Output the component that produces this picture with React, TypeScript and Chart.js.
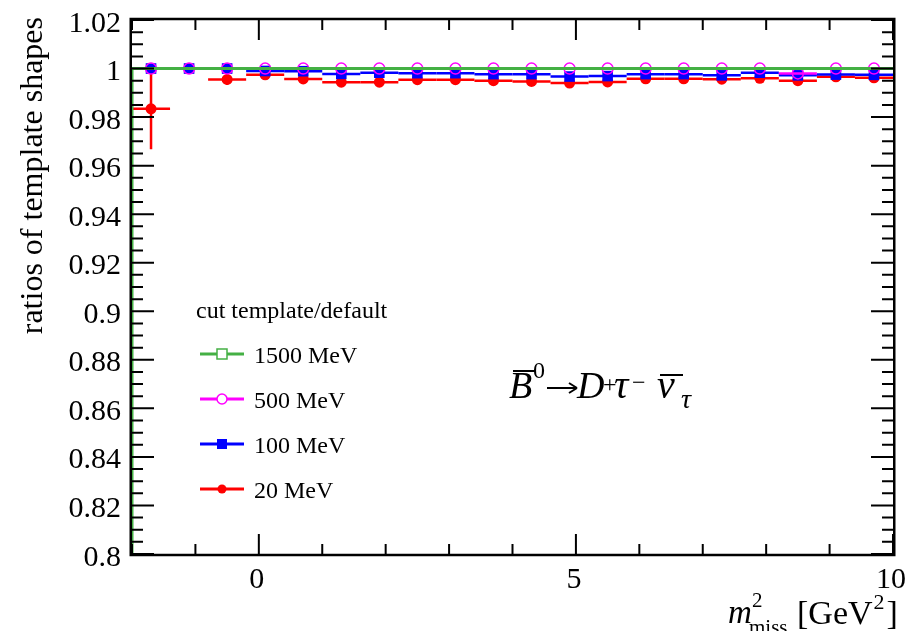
import React, { useEffect, useRef } from "react";
import { Chart, registerables } from "chart.js";

Chart.register(...registerables);

// ---------- data ----------
const binCenters = [-1.7, -1.1, -0.5, 0.1, 0.7, 1.3, 1.9, 2.5, 3.1, 3.7, 4.3, 4.9, 5.5, 6.1, 6.7, 7.3, 7.9, 8.5, 9.1, 9.7];
const binHalfWidth = 0.3;

const ratio1500 = [1, 1, 1, 1, 1, 1, 1, 1, 1, 1, 1, 1, 1, 1, 1, 1, 1, 1, 1, 1];
const ratio500 = [1, 1, 1, 1, 1, 1, 1, 1, 1, 1, 1, 1, 1, 1, 1, 1, 1, 0.998, 1, 1];
const ratio100 = [1, 1, 1, 0.999, 0.9989, 0.9978, 0.9983, 0.9981, 0.9981, 0.9977, 0.9977, 0.9967, 0.9969, 0.9977, 0.9977, 0.9972, 0.9983, 0.9972, 0.9975, 0.9974];
const ratio20 = [0.9834, 1, 0.9955, 0.9974, 0.9957, 0.9944, 0.9944, 0.9954, 0.9954, 0.995, 0.9947, 0.994, 0.9945, 0.9958, 0.9958, 0.9956, 0.996, 0.995, 0.9966, 0.9962];

const err500 = [0.0005, 0.0005, 0.0005, 0.0005, 0.0005, 0.0005, 0.0005, 0.0005, 0.0005, 0.0005, 0.0005, 0.0005, 0.0005, 0.0005, 0.0005, 0.0005, 0.0005, 0.0005, 0.0005, 0.0005];
const err100 = [0.001, 0.0008, 0.001, 0.0008, 0.0008, 0.0008, 0.0008, 0.0008, 0.0008, 0.0008, 0.0008, 0.0008, 0.0008, 0.0008, 0.0008, 0.0008, 0.0008, 0.0008, 0.0008, 0.0008];
const err20 = [0.0167, 0.001, 0.0023, 0.001, 0.001, 0.001, 0.001, 0.001, 0.001, 0.001, 0.001, 0.001, 0.001, 0.001, 0.001, 0.001, 0.001, 0.001, 0.001, 0.001];

const seriesLabels = ["1500 MeV", "500 MeV", "100 MeV", "20 MeV"];
const seriesColors = ["#44b044", "#ff00ff", "#0000ff", "#ff0000"];
const legendHeader = "cut template/default";

const yTickValues = [0.8, 0.82, 0.84, 0.86, 0.88, 0.9, 0.92, 0.94, 0.96, 0.98, 1, 1.02];
const yTickLabels = ["0.8", "0.82", "0.84", "0.86", "0.88", "0.9", "0.92", "0.94", "0.96", "0.98", "1", "1.02"];
const xTickValues = [0, 5, 10];
const xTickLabels = ["0", "5", "10"];
const xMinorStep = 1;
const yMinorStep = 0.005;

const xMin = -2;
const xMax = 10;
const yMin = 0.8;
const yMax = 1.02;

const yTitle = "ratios of template shapes";

const SERIF = '"Liberation Serif", "Times New Roman", serif';

// ---------- helpers ----------
function points(vals: number[]) {
  return binCenters.map((c, i) => ({ x: c, y: vals[i] }));
}

function histSteps(vals: number[]) {
  const out: { x: number; y: number }[] = [{ x: binCenters[0] - binHalfWidth, y: yMin }];
  binCenters.forEach((c, i) => {
    out.push({ x: c - binHalfWidth, y: vals[i] });
    out.push({ x: c + binHalfWidth, y: vals[i] });
  });
  return out;
}

const errorBarPlugin = {
  id: "errorBars",
  beforeDatasetDraw(chart: any, args: any) {
    const ds = chart.data.datasets[args.index];
    if (!ds.errY) return;
    const ctx = chart.ctx as CanvasRenderingContext2D;
    const xs = chart.scales.x;
    const ys = chart.scales.y;
    const a = chart.chartArea;
    ctx.save();
    ctx.beginPath();
    ctx.rect(a.left, a.top, a.right - a.left, a.bottom - a.top);
    ctx.clip();
    ctx.strokeStyle = ds.borderColor;
    ctx.lineWidth = 2.5;
    ds.data.forEach((p: any, i: number) => {
      const x0 = xs.getPixelForValue(p.x - binHalfWidth);
      const x1 = xs.getPixelForValue(p.x + binHalfWidth);
      const px = xs.getPixelForValue(p.x);
      const py = ys.getPixelForValue(p.y);
      ctx.beginPath();
      ctx.moveTo(x0, py);
      ctx.lineTo(x1, py);
      const e = ds.errY[i];
      ctx.moveTo(px, ys.getPixelForValue(p.y + e));
      ctx.lineTo(px, ys.getPixelForValue(p.y - e));
      ctx.stroke();
    });
    ctx.restore();
  },
};

function drawMarker(ctx: CanvasRenderingContext2D, kind: number, x: number, y: number) {
  const col = seriesColors[kind];
  ctx.save();
  ctx.lineWidth = 1.5;
  ctx.strokeStyle = col;
  ctx.fillStyle = col;
  if (kind === 0) {
    ctx.strokeRect(x - 5, y - 5, 10, 10);
  } else if (kind === 1) {
    ctx.beginPath();
    ctx.arc(x, y, 5, 0, Math.PI * 2);
    ctx.stroke();
  } else if (kind === 2) {
    ctx.fillRect(x - 5, y - 5, 10, 10);
  } else {
    ctx.beginPath();
    ctx.arc(x, y, 4.5, 0, Math.PI * 2);
    ctx.fill();
  }
  ctx.restore();
}

const decorPlugin = {
  id: "decor",
  afterDraw(chart: any) {
    const ctx = chart.ctx as CanvasRenderingContext2D;
    const xs = chart.scales.x;
    const ys = chart.scales.y;
    const a = chart.chartArea;
    ctx.save();

    // frame (drawn just outside the plot area)
    ctx.strokeStyle = "#000";
    ctx.lineWidth = 2.5;
    ctx.strokeRect(a.left - 1.25, a.top - 1, a.right - a.left + 2.5, a.bottom - a.top + 2);

    // ticks
    ctx.lineWidth = 2;
    ctx.beginPath();
    const nY = Math.round((yMax - yMin) / yMinorStep);
    for (let k = 0; k <= nY; k++) {
      const v = yMin + k * yMinorStep;
      const py = ys.getPixelForValue(v);
      const major = k % 4 === 0;
      const len = major ? 22 : 11;
      ctx.moveTo(a.left, py);
      ctx.lineTo(a.left + len, py);
      ctx.moveTo(a.right, py);
      ctx.lineTo(a.right - len, py);
    }
    const nX = Math.round((xMax - xMin) / xMinorStep);
    for (let k = 0; k <= nX; k++) {
      const v = xMin + k * xMinorStep;
      const px = xs.getPixelForValue(v);
      const major = xTickValues.includes(v);
      const len = major ? 20 : 10;
      ctx.moveTo(px, a.bottom);
      ctx.lineTo(px, a.bottom - len);
      ctx.moveTo(px, a.top);
      ctx.lineTo(px, a.top + len);
    }
    ctx.stroke();

    // tick labels
    ctx.fillStyle = "#000";
    ctx.font = `30px ${SERIF}`;
    ctx.textAlign = "right";
    ctx.textBaseline = "alphabetic";
    yTickValues.forEach((v, i) => {
      ctx.fillText(yTickLabels[i], a.left - 11, ys.getPixelForValue(v) + 11.5);
    });
    ctx.textAlign = "center";
    xTickValues.forEach((v, i) => {
      ctx.fillText(xTickLabels[i], xs.getPixelForValue(v) - 2, a.bottom + 34);
    });

    // y title
    ctx.save();
    ctx.translate(42, 17);
    ctx.rotate(-Math.PI / 2);
    ctx.textAlign = "right";
    ctx.font = `32px ${SERIF}`;
    ctx.fillText(yTitle, 0, 0);
    ctx.restore();

    // x title: m^2_miss [GeV^2]
    ctx.textAlign = "left";
    ctx.font = `italic 33px ${SERIF}`;
    ctx.fillText("m", 728, 623);
    ctx.font = `21px ${SERIF}`;
    ctx.fillText("2", 752, 607);
    ctx.fillText("miss", 749, 634);
    ctx.font = `34px ${SERIF}`;
    ctx.fillText("[GeV", 797, 624);
    let wx = 797 + ctx.measureText("[GeV").width;
    ctx.font = `22px ${SERIF}`;
    ctx.fillText("2", wx + 1, 609);
    wx += ctx.measureText("2").width + 3;
    ctx.font = `34px ${SERIF}`;
    ctx.fillText("]", wx, 624);

    // legend
    ctx.font = `24px ${SERIF}`;
    ctx.fillText(legendHeader, 196, 318);
    seriesLabels.forEach((lab, i) => {
      const ly = 354 + i * 45;
      ctx.save();
      ctx.strokeStyle = seriesColors[i];
      ctx.lineWidth = 3;
      ctx.beginPath();
      ctx.moveTo(200, ly);
      ctx.lineTo(244, ly);
      ctx.stroke();
      ctx.restore();
      if (i === 0 || i === 1) {
        ctx.save();
        ctx.fillStyle = "#fff";
        if (i === 0) ctx.fillRect(217, ly - 5, 10, 10);
        else {
          ctx.beginPath();
          ctx.arc(222, ly, 5, 0, Math.PI * 2);
          ctx.fill();
        }
        ctx.restore();
      }
      drawMarker(ctx, i, 222, ly);
      ctx.fillStyle = "#000";
      ctx.font = `24px ${SERIF}`;
      ctx.fillText(lab, 254, ly + 9);
    });

    // decay annotation: B̄0 -> D+ τ- ν̄τ
    const base = 398;
    ctx.fillStyle = "#000";
    ctx.strokeStyle = "#000";
    ctx.font = `italic 38px ${SERIF}`;
    ctx.fillText("B", 509, base);
    ctx.lineWidth = 2;
    ctx.beginPath();
    ctx.moveTo(513, 371);
    ctx.lineTo(536, 371);
    ctx.stroke();
    ctx.font = `24px ${SERIF}`;
    ctx.fillText("0", 533, 378);
    // arrow
    ctx.lineWidth = 2;
    ctx.beginPath();
    ctx.moveTo(547, 388);
    ctx.lineTo(577, 388);
    ctx.moveTo(577, 388);
    ctx.lineTo(569, 383);
    ctx.moveTo(577, 388);
    ctx.lineTo(569, 393);
    ctx.stroke();
    ctx.font = `italic 38px ${SERIF}`;
    ctx.fillText("D", 577, base);
    ctx.font = `24px ${SERIF}`;
    ctx.fillText("+", 603, 392);
    ctx.font = `italic 40px ${SERIF}`;
    ctx.fillText("τ", 614, base);
    ctx.font = `24px ${SERIF}`;
    ctx.fillText("−", 632, 390);
    ctx.font = `italic 40px ${SERIF}`;
    ctx.fillText("ν", 657, base);
    ctx.beginPath();
    ctx.moveTo(660, 375);
    ctx.lineTo(683, 375);
    ctx.stroke();
    ctx.font = `italic 28px ${SERIF}`;
    ctx.fillText("τ", 681, 408);

    ctx.restore();
  },
};

export default function App() {
  const ref = useRef<HTMLCanvasElement>(null);
  useEffect(() => {
    document.body.style.margin = "0";
    const datasets: any[] = [
      {
        label: seriesLabels[0],
        data: histSteps(ratio1500),
        showLine: true,
        borderColor: seriesColors[0],
        backgroundColor: seriesColors[0],
        borderWidth: 3,
        pointRadius: 0,
        fill: false,
      },
      {
        label: seriesLabels[1],
        data: points(ratio500),
        errY: err500,
        showLine: false,
        pointStyle: "circle",
        pointRadius: 5.5,
        borderWidth: 1.5,
        borderColor: seriesColors[1],
        backgroundColor: "rgba(0,0,0,0)",
      },
      {
        label: seriesLabels[2],
        data: points(ratio100),
        errY: err100,
        showLine: false,
        pointStyle: "rect",
        pointRadius: 7.5,
        borderWidth: 0,
        borderColor: seriesColors[2],
        backgroundColor: seriesColors[2],
      },
      {
        label: seriesLabels[3],
        data: points(ratio20),
        errY: err20,
        showLine: false,
        pointStyle: "circle",
        pointRadius: 5.5,
        borderWidth: 0,
        borderColor: seriesColors[3],
        backgroundColor: seriesColors[3],
      },
    ];
    const chart = new Chart(ref.current as HTMLCanvasElement, {
      type: "scatter",
      data: { datasets },
      options: {
        responsive: false,
        animation: false,
        devicePixelRatio: 1,
        layout: { padding: { left: 132, top: 20, right: 28, bottom: 77 } },
        scales: {
          x: { type: "linear", min: xMin, max: xMax, display: false },
          y: { type: "linear", min: yMin, max: yMax, display: false },
        },
        plugins: { legend: { display: false }, tooltip: { enabled: false } },
      },
      plugins: [errorBarPlugin, decorPlugin],
    } as any);
    return () => chart.destroy();
  }, []);
  return (
    <div style={{ position: "absolute", left: 0, top: 0, width: 921, height: 631, overflow: "hidden", background: "#fff" }}>
      <canvas ref={ref} width={921} height={631} style={{ display: "block" }} />
    </div>
  );
}
